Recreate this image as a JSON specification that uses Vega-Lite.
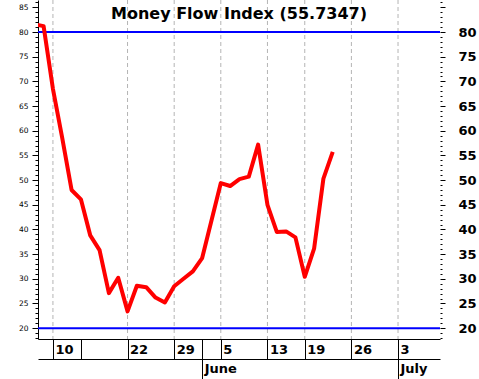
{
  "$schema": "https://vega.github.io/schema/vega-lite/v6.json",
  "width": 402,
  "height": 339,
  "autosize": {"type": "none"},
  "padding": {"left": 38, "top": 0, "right": 39, "bottom": 40},
  "background": "white",
  "config": {"view": {"stroke": null}},
  "title": {"text": "Money Flow Index (55.7347)", "font": "DejaVu Sans", "fontSize": 16, "fontWeight": "bold", "color": "black", "anchor": "middle", "offset": -38.5, "baseline": "alphabetic", "frame": "group"},
  "resolve": {"axis": {"x": "independent", "y": "independent"}},
  "layer": [
    {
      "data": {"values": [{"i": 0}, {"i": 8}, {"i": 13}, {"i": 18}, {"i": 23}, {"i": 27}, {"i": 32}, {"i": 37}]},
      "mark": {"type": "rule", "stroke": "#b4b4b4", "strokeDash": [4, 3], "strokeWidth": 1},
      "encoding": {
        "x": {
          "field": "i", "type": "quantitative",
          "scale": {"domain": [-1.6, 41.5], "nice": false, "zero": false},
          "axis": {"orient": "bottom", "offset": 20, "values": [16, 37], "labelExpr": "datum.value == 16 ? 'June' : 'July'", "grid": false, "domain": true, "domainColor": "black", "ticks": true, "tickSize": 20, "tickColor": "black", "labelAlign": "left", "labelBaseline": "middle", "labelPadding": -11, "labelOffset": 2, "labelFont": "DejaVu Sans", "labelFontSize": 13, "labelFontWeight": "bold", "labelColor": "black", "labelFlush": false, "labelOverlap": false, "labelBound": false, "title": null}
        }
      }
    },
    {
      "data": {"values": [{"level": 80}, {"level": 20}]},
      "mark": {"type": "rule", "stroke": "#0000ff", "strokeWidth": 2},
      "encoding": {
        "y": {
          "field": "level", "type": "quantitative",
          "scale": {"domain": [17.8, 86.5], "nice": false, "zero": false},
          "axis": {"orient": "right", "values": [18,19,20,21,22,23,24,25,26,27,28,29,30,31,32,33,34,35,36,37,38,39,40,41,42,43,44,45,46,47,48,49,50,51,52,53,54,55,56,57,58,59,60,61,62,63,64,65,66,67,68,69,70,71,72,73,74,75,76,77,78,79,80,81,82,83,84,85,86], "domain": false, "grid": false, "tickColor": "black", "tickSize": {"condition": {"test": "datum.value % 5 == 0", "value": 5}, "value": 2}, "labelExpr": "datum.value % 5 == 0 && datum.value <= 80 ? datum.label : ''", "labelPadding": 13, "labelFont": "DejaVu Sans", "labelFontSize": 13, "labelFontWeight": "bold", "labelColor": "black", "labelOverlap": false, "labelBound": false, "labelFlush": false, "title": null}
        }
      }
    },
    {
      "data": {"values": [
        {"i": -2, "mfi": 81.6}, {"i": -1, "mfi": 81.2}, {"i": 0, "mfi": 68.5}, {"i": 1, "mfi": 58.5},
        {"i": 2, "mfi": 48.0}, {"i": 3, "mfi": 46.1}, {"i": 4, "mfi": 38.8}, {"i": 5, "mfi": 35.8},
        {"i": 6, "mfi": 27.1}, {"i": 7, "mfi": 30.2}, {"i": 8, "mfi": 23.4}, {"i": 9, "mfi": 28.6},
        {"i": 10, "mfi": 28.3}, {"i": 11, "mfi": 26.2}, {"i": 12, "mfi": 25.2}, {"i": 13, "mfi": 28.5},
        {"i": 14, "mfi": 30.0}, {"i": 15, "mfi": 31.5}, {"i": 16, "mfi": 34.2}, {"i": 17, "mfi": 41.8},
        {"i": 18, "mfi": 49.4}, {"i": 19, "mfi": 48.8}, {"i": 20, "mfi": 50.2}, {"i": 21, "mfi": 50.7},
        {"i": 22, "mfi": 57.2}, {"i": 23, "mfi": 45.0}, {"i": 24, "mfi": 39.5}, {"i": 25, "mfi": 39.6},
        {"i": 26, "mfi": 38.4}, {"i": 27, "mfi": 30.4}, {"i": 28, "mfi": 36.1}, {"i": 29, "mfi": 50.3},
        {"i": 30, "mfi": 55.7347}
      ]},
      "mark": {"type": "line", "stroke": "#ff0000", "strokeWidth": 4, "clip": true, "strokeJoin": "round"},
      "encoding": {
        "x": {
          "field": "i", "type": "quantitative",
          "scale": {"domain": [-1.6, 41.5], "nice": false, "zero": false},
          "axis": {"orient": "bottom", "values": [0, 3, 8, 13, 16, 18, 23, 27, 32, 37], "labelExpr": "datum.value == 0 ? '10' : datum.value == 8 ? '22' : datum.value == 13 ? '29' : datum.value == 18 ? '5' : datum.value == 23 ? '13' : datum.value == 27 ? '19' : datum.value == 32 ? '26' : datum.value == 37 ? '3' : ''", "grid": false, "domain": true, "domainColor": "black", "ticks": true, "tickSize": 20, "tickColor": "black", "labelAlign": "left", "labelBaseline": "middle", "labelPadding": -10, "labelOffset": 2, "labelFont": "DejaVu Sans", "labelFontSize": 13, "labelFontWeight": "bold", "labelColor": "black", "labelFlush": false, "labelOverlap": false, "labelBound": false, "title": null}
        },
        "y": {
          "field": "mfi", "type": "quantitative",
          "scale": {"domain": [17.8, 86.5], "nice": false, "zero": false},
          "axis": {"orient": "left", "values": [18,19,20,21,22,23,24,25,26,27,28,29,30,31,32,33,34,35,36,37,38,39,40,41,42,43,44,45,46,47,48,49,50,51,52,53,54,55,56,57,58,59,60,61,62,63,64,65,66,67,68,69,70,71,72,73,74,75,76,77,78,79,80,81,82,83,84,85,86], "domain": true, "domainColor": "black", "grid": false, "tickColor": "black", "tickSize": {"condition": {"test": "datum.value % 5 == 0", "value": 6}, "value": 3}, "labelExpr": "datum.value % 5 == 0 ? datum.label : ''", "labelPadding": 4, "labelFont": "DejaVu Sans", "labelFontSize": 7.5, "labelColor": "black", "labelOverlap": false, "labelBound": false, "labelFlush": false, "title": null}
        }
      }
    }
  ]
}
